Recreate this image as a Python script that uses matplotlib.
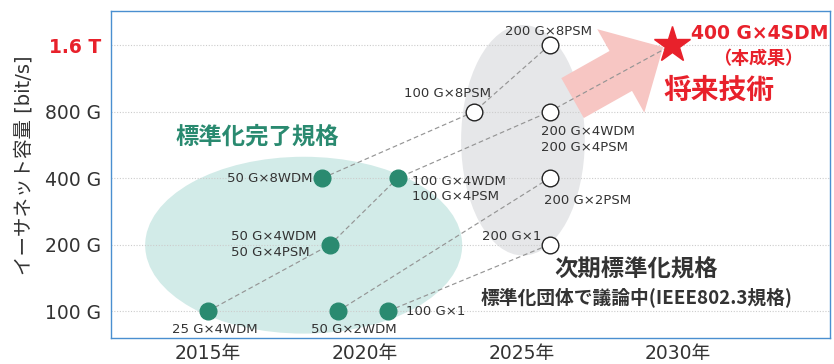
import matplotlib
matplotlib.use("Agg")
import matplotlib.pyplot as plt
from matplotlib.patches import Ellipse

plt.rcParams['font.family'] = ['DejaVu Sans', 'Noto Sans CJK JP']

# rate ticks (bit/s, in G)
rate_ticks = [100, 200, 400, 800, 1600]
rate_labels = ['100 G', '200 G', '400 G', '800 G', '1.6 T']
year_ticks = [2015, 2020, 2025, 2030]
year_labels = ['2015年', '2020年', '2025年', '2030年']

# standardized (filled dots)
done_names = ['25 G×4WDM', '50 G×4WDM\n50 G×4PSM', '50 G×8WDM', '50 G×2WDM',
              '100 G×1', '100 G×4WDM\n100 G×4PSM']
done_year = [2015.0, 2018.9, 2018.65, 2019.15, 2020.75, 2021.05]
done_rate = [100, 200, 400, 100, 100, 400]

# next-generation (open circles)
next_names = ['100 G×8PSM', '200 G×8PSM', '200 G×4WDM\n200 G×4PSM', '200 G×2PSM', '200 G×1']
next_year = [2023.5, 2025.9, 2025.9, 2025.9, 2025.9]
next_rate = [800, 1600, 800, 400, 200]

# this work
star_name = '400 G×4SDM'
star_year = 2029.8
star_rate = 1600

# evolution paths (by label)
chains = [
    ['25 G×4WDM', '50 G×4WDM\n50 G×4PSM', '100 G×4WDM\n100 G×4PSM', '200 G×4WDM\n200 G×4PSM', star_name],
    ['50 G×8WDM', '100 G×8PSM', '200 G×8PSM'],
    ['50 G×2WDM', '200 G×2PSM'],
    ['100 G×1', '200 G×1'],
]

# label offsets in points (dx, dy, ha)
offsets = {
    '25 G×4WDM': (5, -13, 'center'),
    '50 G×4WDM\n50 G×4PSM': (-10, 0, 'right'),
    '50 G×8WDM': (-7, 0, 'right'),
    '50 G×2WDM': (11, -13, 'center'),
    '100 G×1': (13, 0, 'left'),
    '100 G×4WDM\n100 G×4PSM': (10, -8, 'left'),
    '100 G×8PSM': (-19, 13, 'center'),
    '200 G×8PSM': (-1, 10, 'center'),
    '200 G×4WDM\n200 G×4PSM': (-6, -20, 'left'),
    '200 G×2PSM': (-4, -16, 'left'),
    '200 G×1': (-6, 6, 'right'),
}

teal = '#2a8a70'
red = '#e8212b'
dark = '#333333'

pos = {}
for n, x, y in zip(done_names, done_year, done_rate):
    pos[n] = (x, y)
for n, x, y in zip(next_names, next_year, next_rate):
    pos[n] = (x, y)
pos[star_name] = (star_year, star_rate)

fig = plt.figure(figsize=(8.34, 3.64), dpi=100)
ax = fig.add_axes([0.1331, 0.0714, 0.862, 0.898])
ax.set_yscale('log')
ax.set_ylim(75.5, 2280)
ax.set_xlim(2011.9, 2034.85)

# shaded regions
ax.add_patch(Ellipse((0.268, 0.284), 0.441, 0.541, transform=ax.transAxes,
                     fc='#d2ebe8', ec='none', zorder=0))
ax.add_patch(Ellipse((0.573, 0.605), 0.172, 0.705, transform=ax.transAxes,
                     fc='#e6e7e9', ec='none', zorder=0))

# big arrow
ax.annotate('', xy=(0.768, 0.890), xytext=(0.642, 0.734), xycoords='axes fraction',
            arrowprops=dict(arrowstyle='simple,head_length=3.5,head_width=6.9,tail_width=3.3',
                            mutation_scale=10, fc='#f7c6c3', ec='none',
                            shrinkA=0, shrinkB=0), zorder=1)

for r in rate_ticks:
    ax.axhline(r, color='#cccccc', lw=0.8, ls=(0, (1, 1.5)), zorder=0.5)

for ch in chains:
    xs = [pos[n][0] for n in ch]
    ys = [pos[n][1] for n in ch]
    ax.plot(xs, ys, color='#959595', lw=0.85, ls=(0, (4, 2.5)), zorder=2)

ax.plot(done_year, done_rate, 'o', ms=12, color=teal, mec=teal, zorder=3)
ax.plot(next_year, next_rate, 'o', ms=12, mfc='white', mec='#222222', mew=1.0, zorder=3)
ax.plot([star_year], [star_rate], '*', ms=27, color=red, mec=red, zorder=4)

for n in done_names + next_names:
    dx, dy, ha = offsets[n]
    ax.annotate(n, pos[n], xytext=(dx, dy), textcoords='offset points',
                ha=ha, va='center', fontsize=9.5, color=dark, multialignment='left',
                linespacing=1.25, zorder=5)

ax.annotate(star_name, pos[star_name], xytext=(14, 8.5), textcoords='offset points',
            ha='left', va='center', fontsize=13.5, fontweight='bold', color=red)
ax.annotate('（本成果）', pos[star_name], xytext=(62, -9.5), textcoords='offset points',
            ha='center', va='center', fontsize=13, fontweight='bold', color=red,
            family=['Noto Sans CJK JP'])
ax.annotate('将来技術', pos[star_name], xytext=(-6, -33), textcoords='offset points',
            ha='left', va='center', fontsize=20, fontweight='bold', color=red,
            family=['Noto Sans CJK JP'])

ax.text(0.204, 0.615, '標準化完了規格', transform=ax.transAxes, ha='center', va='center',
        fontsize=16.8, fontweight='bold', color=teal, family=['Noto Sans CJK JP'])
ax.text(0.731, 0.208, '次期標準化規格', transform=ax.transAxes, ha='center', va='center',
        fontsize=16.8, fontweight='bold', color=dark, family=['Noto Sans CJK JP'])
ax.text(0.731, 0.125, '標準化団体で議論中(IEEE802.3規格)', transform=ax.transAxes,
        ha='center', va='center', fontsize=13.5, fontweight='bold', color=dark,
        family=['Noto Sans CJK JP'])

ax.minorticks_off()
ax.set_yticks(rate_ticks)
ax.set_yticklabels(rate_labels, fontsize=13.5, color=dark)
ax.get_yticklabels()[-1].set_color(red)
ax.get_yticklabels()[-1].set_fontweight('bold')
ax.set_xticks(year_ticks)
ax.set_xticklabels(year_labels, fontsize=13.5, color=dark)
ax.tick_params(axis='y', length=0, pad=7)
ax.tick_params(axis='x', length=0, pad=4)
ax.set_ylabel('イーサネット容量 [bit/s]', fontsize=14, color=dark)
ax.yaxis.set_label_coords(-0.108, 0.529)

for s in ax.spines.values():
    s.set_color('#4a8fd0')
    s.set_linewidth(1.0)

fig.savefig('out.png', dpi=100)
